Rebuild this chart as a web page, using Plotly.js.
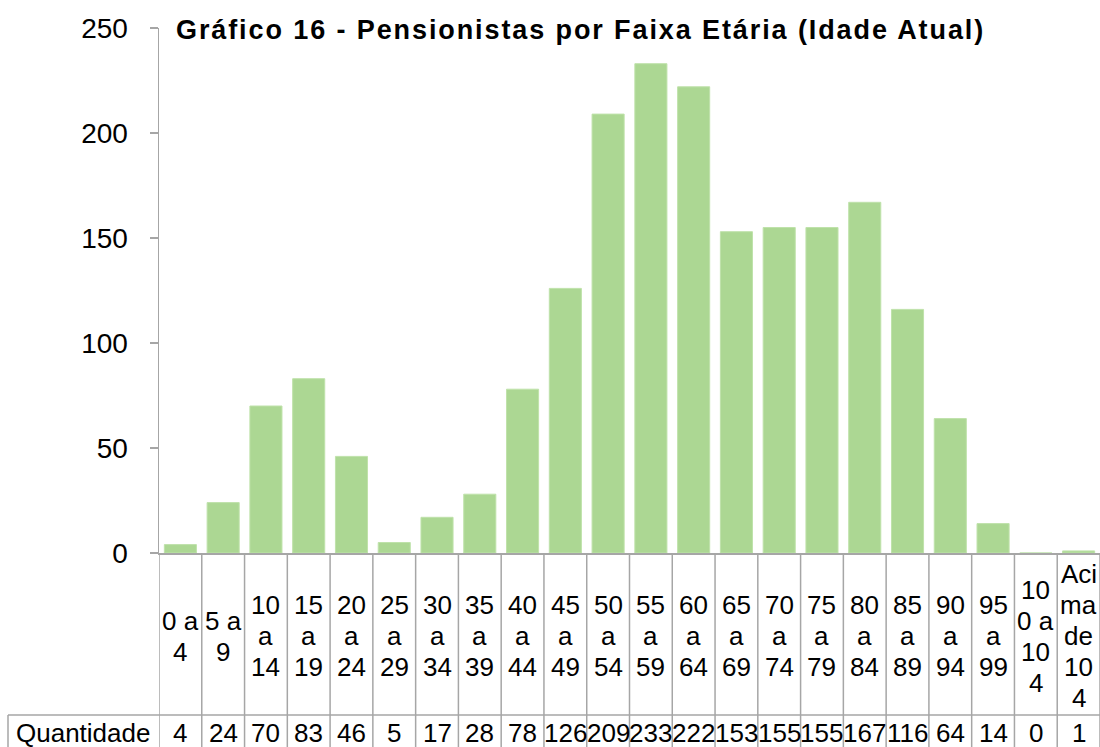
<!DOCTYPE html>
<html>
<head>
<meta charset="utf-8">
<script src="https://cdn.plot.ly/plotly-3.0.1.min.js"></script>
<style>html,body{margin:0;padding:0;background:#fff;}#chart{width:1100px;height:747px;}</style>
</head>
<body>
<div id="chart"></div>
<script>
const categories = ["0 a 4","5 a 9","10 a 14","15 a 19","20 a 24","25 a 29","30 a 34","35 a 39","40 a 44","45 a 49","50 a 54","55 a 59","60 a 64","65 a 69","70 a 74","75 a 79","80 a 84","85 a 89","90 a 94","95 a 99","100 a 104","Acima de 104"];
const tableLabels = ["0 a<br>4","5 a<br>9","10<br>a<br>14","15<br>a<br>19","20<br>a<br>24","25<br>a<br>29","30<br>a<br>34","35<br>a<br>39","40<br>a<br>44","45<br>a<br>49","50<br>a<br>54","55<br>a<br>59","60<br>a<br>64","65<br>a<br>69","70<br>a<br>74","75<br>a<br>79","80<br>a<br>84","85<br>a<br>89","90<br>a<br>94","95<br>a<br>99","10<br>0 a<br>10<br>4","Aci<br>ma<br>de<br>10<br>4"];
const quantidade = [4,24,70,83,46,5,17,28,78,126,209,233,222,153,155,155,167,116,64,14,0,1];
const seriesName = "Quantidade";
const yTicks = [0,50,100,150,200,250];
const titleText = "Gráfico 16 - Pensionistas por Faixa Etária (Idade Atual)";

const FONT = "Liberation Sans, Arial, sans-serif";
const W = 1100, H = 747;
const L = 159, R = 0, T = 28, B = 194;
const plotH = H - T - B, plotW = W - L - R;
const py = px => (H - B - px) / plotH;   // pixel y -> paper y
const pxX = px => (px - L) / plotW;      // pixel x -> paper x
const gridColor = "#a6a6a6";
const TFS = 26, LINE = 31, ROW_CENTER = 636, QROW = 733;

const xs = categories.map((c, i) => i);

const annotations = [];
const shapes = [];
categories.forEach((c, i) => {
  const lines = tableLabels[i].split('<br>');
  const top = ROW_CENTER - (lines.length - 1) * LINE / 2;
  lines.forEach((ln, k) => {
    annotations.push({xref:'x', yref:'paper', x:i, y:py(top + k * LINE), text:ln, showarrow:false,
      xanchor:'center', yanchor:'middle', font:{family:FONT, size:TFS, color:'#000'}});
  });
  annotations.push({xref:'x', yref:'paper', x:i, y:py(QROW), text:String(quantidade[i]), showarrow:false,
    xanchor:'center', yanchor:'middle', font:{family:FONT, size:TFS, color:'#000'}});
});
annotations.push({xref:'paper', yref:'paper', x:pxX(83), y:py(QROW), text:seriesName, showarrow:false,
  xanchor:'center', yanchor:'middle', font:{family:FONT, size:TFS, color:'#000'}});

for (let i = 0; i <= categories.length; i++) {
  shapes.push({type:'line', xref:'x', yref:'paper', x0:i-0.5, x1:i-0.5, y0:0, y1:py(760), line:{color:gridColor, width:1.5}});
}
shapes.push({type:'line', xref:'paper', yref:'paper', x0:pxX(8), x1:1, y0:py(715), y1:py(715), line:{color:gridColor, width:1.5}});
shapes.push({type:'line', xref:'paper', yref:'paper', x0:pxX(8), x1:pxX(8), y0:py(715), y1:py(760), line:{color:gridColor, width:1.5}});

const data = [{
  type:'bar', x:xs, y:quantidade, name:seriesName,
  marker:{color:'#acd793', line:{color:'#bfe2aa', width:1}},
  width:0.75, hoverinfo:'skip'
}];

const layout = {
  width:W, height:H,
  margin:{l:L, r:R, t:T, b:B, pad:0},
  paper_bgcolor:'#fff', plot_bgcolor:'#fff',
  showlegend:false,
  title:{text:'<b>'+titleText+'</b>', x:176/W, xanchor:'left', xref:'container', y:1-30/H, yref:'container', yanchor:'middle',
    font:{family:FONT, size:27, color:'#000'}},
  xaxis:{range:[-0.5, categories.length-0.5], showticklabels:false, ticks:'', showgrid:false, zeroline:false,
    showline:true, linecolor:gridColor, linewidth:1.5, fixedrange:true},
  yaxis:{range:[0,250], tickvals:yTicks, ticktext:yTicks.map(String), ticks:'outside', ticklen:8, tickcolor:gridColor, tickwidth:1.5,
    showline:true, linecolor:gridColor, linewidth:1.5, showgrid:false, zeroline:false,
    tickfont:{family:FONT, size:28, color:'#000'}, ticklabelstandoff:16, fixedrange:true},
  annotations:annotations,
  shapes:shapes
};

Plotly.newPlot('chart', data, layout, {displayModeBar:false, staticPlot:true}).then(() => {
  const t = document.querySelector('.gtitle');
  if (t) t.style.letterSpacing = '1.9px';
});
</script>
</body>
</html>
